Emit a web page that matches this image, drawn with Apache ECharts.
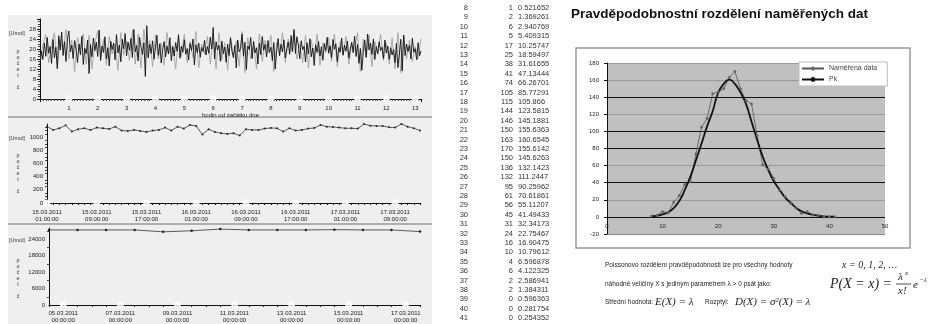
<!DOCTYPE html>
<html>
<head>
<meta charset="utf-8">
<title>Pravděpodobnostní rozdělení naměřených dat</title>
<script src="https://cdn.jsdelivr.net/npm/echarts@6/dist/echarts.min.js"></script>
<style>
html, body { margin: 0; padding: 0; background: #fff; }
#echarts { width: 952px; height: 324px; }
</style>
</head>
<body>
<div id="echarts"></div>
<script>
// panel 1 - hodnoty behem dne (krok 0.05 h a 0.1 h)
var blackStep = 0.05;
var blackTrace = [
    13.5, 19.2, 15.8, 22.4, 17.1, 24.6, 18.3, 21.0, 14.2, 23.8, 16.5, 20.7, 12.1, 25.3, 19.6, 26.8, 17.4, 22.9, 15.0, 24.1,
    27.2, 18.8, 21.5, 16.2, 23.4, 19.9, 14.6, 22.0, 17.7, 25.1, 13.8, 20.3, 18.1, 23.6, 10.2, 21.8, 16.9, 24.4, 19.3, 22.7,
    17.0, 27.6, 15.4, 21.2, 18.6, 24.9, 16.1, 20.5, 13.2, 23.1, 19.8, 22.3, 15.7, 25.8, 18.4, 21.6, 14.9, 23.9, 20.1, 26.2,
    17.3, 22.8, 19.5, 24.2, 16.6, 27.9, 18.9, 21.4, 15.2, 24.7, 20.8, 17.8, 22.5, 9.0, 29.3, 16.4, 21.9, 18.2, 23.3, 15.9,
    20.4, 25.5, 17.5, 22.1, 14.4, 19.7, 23.0, 16.8, 21.3, 18.0, 24.5, 15.3, 20.9, 17.2, 22.6, 19.1, 25.7, 16.3, 21.1, 18.7,
    23.7, 17.9, 20.2, 15.6, 22.2, 19.4, 24.0, 13.6, 21.7, 18.5, 22.4, 16.7, 20.6, 19.0, 23.5, 17.6, 21.0, 18.3, 24.8, 20.0,
    28.6, 16.0, 22.9, 19.6, 21.5, 15.1, 23.2, 18.1, 20.8, 14.7, 22.0, 17.4, 24.3, 19.2, 16.5, 21.4, 12.4, 23.6, 18.9, 20.3,
    25.9, 17.1, 22.7, 11.8, 21.2, 19.8, 24.6, 16.2, 23.1, 18.4, 20.5, 14.0, 22.3, 17.7, 25.0, 19.5, 21.8, 16.8, 23.4, 18.6,
    20.7, 15.4, 22.6, 12.0, 19.3, 24.2, 17.3, 21.9, 18.8, 23.7, 16.4, 20.1, 22.8, 17.9, 25.4, 19.0, 27.8, 18.2, 24.9, 21.6,
    16.1, 23.3, 19.7, 21.1, 14.8, 22.5, 18.0, 24.1, 16.9, 20.4, 13.4, 21.7, 18.6, 23.0, 17.2, 20.9, 15.5, 22.2, 19.4, 24.7,
    18.3, 21.3, 16.6, 23.8, 19.9, 22.1, 15.0, 20.6, 18.7, 24.4, 17.5, 21.5, 19.1, 23.2, 16.3, 20.0, 22.7, 18.5, 25.2, 17.0,
    21.8, 14.3, 20.2, 11.5, 18.9, 23.5, 16.7, 26.0, 19.6, 22.4, 17.8, 24.0, 15.8, 21.0, 18.1, 22.9, 19.3, 20.7, 16.2, 23.6,
    18.4, 21.2, 15.9, 20.5, 17.6, 19.8, 14.5, 22.3, 12.6, 18.0, 23.9, 11.2, 25.6, 17.4, 22.0, 19.0, 21.4, 16.0, 24.3, 18.7,
    20.1, 15.7, 22.5, 17.3, 19.2
];
var grayStep = 0.1;
var grayTrace = [
    15.0, 21.5, 25.8, 14.5, 22.0, 26.5, 12.5, 24.0, 19.0, 27.8,
    16.0, 23.5, 11.0, 24.5, 20.0, 26.0, 14.0, 25.5, 12.0, 22.5,
    27.0, 16.5, 24.0, 13.5, 25.0, 18.0, 22.0, 11.5, 26.5, 17.5,
    23.0, 15.5, 27.5, 14.0, 26.0, 12.5, 28.0, 17.0, 23.5, 13.0,
    25.5, 16.0, 22.5, 13.5, 26.5, 18.5, 21.5, 12.0, 24.5, 17.0,
    26.0, 14.5, 23.0, 16.5, 27.0, 12.5, 22.0, 18.0, 25.0, 14.0,
    24.0, 12.0, 26.5, 15.5, 22.5, 11.5, 25.0, 17.5, 23.0, 13.0,
    27.0, 10.5, 24.5, 16.0, 21.5, 12.0, 26.0, 15.0, 23.5, 18.5,
    25.5, 11.0, 22.5, 17.5, 26.5, 14.5, 24.0, 19.0, 27.0, 16.0,
    22.0, 14.5, 25.5, 12.5, 23.5, 17.0, 26.0, 13.5, 22.5, 18.5,
    24.5, 15.0, 26.0, 13.0, 23.0, 17.5, 25.0, 14.0, 22.0, 19.5,
    26.5, 11.0, 24.0, 16.5, 25.5, 13.0, 23.0, 18.0, 26.0, 15.5,
    22.5, 14.0, 24.5, 12.0, 26.5, 10.5, 25.0, 16.0, 23.5, 15.0,
    21.0, 16.0, 24.0
];
var hourTicks = [1, 2, 3, 4, 5, 6, 7, 8, 9, 10, 11, 12, 13];

// panel 2 - hodinove hodnoty 15.03.2011 01:00 az 17.03.2011 13:00
var hourlyValues = [
    1160, 1110, 1135, 1180, 1085, 1120, 1135, 1110, 1145, 1135,
    1125, 1160, 1100, 1095, 1110, 1095, 1080, 1100, 1110, 1145,
    1100, 1160, 1130, 1185, 1170, 1040, 1120, 1080, 1060, 1050,
    1060, 1025, 1120, 1110, 1110, 1130, 1140, 1135, 1085, 1135,
    1100, 1110, 1130, 1140, 1185, 1160, 1155, 1145, 1135, 1135,
    1130, 1200, 1175, 1170, 1170, 1150, 1145, 1200, 1160, 1135,
    1100
];
var hourlyLabels = ['15.03.2011\n01:00:00', '15.03.2011\n09:00:00', '15.03.2011\n17:00:00', '16.03.2011\n01:00:00',
    '16.03.2011\n09:00:00', '16.03.2011\n17:00:00', '17.03.2011\n01:00:00', '17.03.2011\n09:00:00'];

// panel 3 - denni hodnoty (poledne) 04.03.2011 az 17.03.2011
var dailyValues = [27300, 27300, 27300, 27300, 26600, 27000, 27600, 27300, 27300, 27300, 27400, 27300, 27300, 26700];
var dailyLabels = ['05.03.2011\n00:00:00', '07.03.2011\n00:00:00', '09.03.2011\n00:00:00', '11.03.2011\n00:00:00',
    '13.03.2011\n00:00:00', '15.03.2011\n00:00:00', '17.03.2011\n00:00:00'];

// tabulka + graf rozdeleni
var kValues = [8, 9, 10, 11, 12, 13, 14, 15, 16, 17, 18, 19, 20, 21, 22, 23, 24, 25, 26, 27, 28, 29, 30, 31, 32, 33, 34, 35, 36, 37, 38, 39, 40, 41];
var measured = [1, 2, 6, 5, 17, 25, 38, 41, 74, 105, 115, 144, 146, 150, 163, 170, 150, 136, 132, 95, 61, 56, 45, 31, 24, 16, 10, 4, 6, 2, 2, 0, 0, 0];
var pkValues = [0.521652, 1.369261, 2.940769, 5.409315, 10.25747, 18.59497, 31.61655, 47.13444, 66.26701, 85.77291,
    105.866, 123.5815, 145.1881, 155.6363, 160.6545, 155.6142, 145.6263, 132.1423, 111.2447, 90.25962,
    70.61861, 55.11207, 41.49433, 32.34173, 22.75467, 16.90475, 10.79612, 6.596878, 4.122325, 2.586941,
    1.384311, 0.596363, 0.281754, 0.254352];

window.onload = function(){
    var blackAxis = { show: true, lineStyle: { color: '#111', width: 1 } };

    // kategorie pro casove osy
    var hourCats = hourlyValues.map(function(v, i){ return String(i); });
    var halfDayCats = [];
    var halfDayData = [];
    for (var i = 0; i < dailyValues.length * 2 - 1; i++) {
        halfDayCats.push(String(i));
        halfDayData.push(i % 2 === 0 ? dailyValues[i / 2] : null);
    }

    var elements = [];
    // sede pozadi leveho panelu
    elements.push({ type: 'rect', z: -5, shape: { x: 8, y: 15, width: 424, height: 309 }, style: { fill: '#efefef' } });
    elements.push({ type: 'line', z: -4, shape: { x1: 8, y1: 117, x2: 432, y2: 117 }, style: { stroke: '#9a9a9a', lineWidth: 1.5 } });
    elements.push({ type: 'line', z: -4, shape: { x1: 8, y1: 224, x2: 432, y2: 224 }, style: { stroke: '#9a9a9a', lineWidth: 1.5 } });
    // ramecek grafu vpravo
    elements.push({ type: 'rect', z: -5, shape: { x: 576, y: 48, width: 334, height: 200 }, style: { fill: '#fff', stroke: '#999', lineWidth: 1.5 } });
    elements.push({ type: 'rect', z: -4, shape: { x: 607, y: 63, width: 278, height: 171 }, style: { fill: '#c0c0c0' } });

    // popisky os v levem panelu
    [[33, 48], [138, 152], [240, 257]].forEach(function(p){
        elements.push({ type: 'text', style: { text: '[Umol]', x: 9, y: p[0], fill: '#333', font: '5.5px Liberation Sans', textVerticalAlign: 'middle' } });
        elements.push({ type: 'text', style: { text: 'p\no\nč\ne\nt\n\nč', x: 18, y: p[1], fill: '#333', font: '5.5px Liberation Sans', lineHeight: 6, textAlign: 'center' } });
    });

    // tabulka
    kValues.forEach(function(k, i){
        var y = 8 + i * 9.4;
        var f = '7.5px Liberation Sans';
        elements.push({ type: 'text', style: { text: String(k), x: 468, y: y, fill: '#333', font: f, textAlign: 'right', textVerticalAlign: 'middle' } });
        elements.push({ type: 'text', style: { text: String(measured[i]), x: 513, y: y, fill: '#333', font: f, textAlign: 'right', textVerticalAlign: 'middle' } });
        elements.push({ type: 'text', style: { text: String(pkValues[i]), x: 518, y: y, fill: '#333', font: f, textAlign: 'left', textVerticalAlign: 'middle' } });
    });

    // nadpis
    elements.push({ type: 'text', style: { text: 'Pravděpodobnostní rozdělení naměřených dat', x: 571, y: 14, fill: '#111', font: 'bold 13.5px Liberation Sans', textVerticalAlign: 'middle' } });

    // vzorce pod grafem
    var note = '6.5px Liberation Sans';
    var math = 'italic 11px Liberation Serif';
    function txt(s, x, y, font) {
        elements.push({ type: 'text', style: { text: s, x: x, y: y, fill: '#222', font: font, textVerticalAlign: 'middle' } });
    }
    txt('Poissonovo rozdělení pravděpodobnosti lze pro všechny hodnoty', 605, 265, note);
    txt('x = 0, 1, 2, …', 842, 265, 'italic 10px Liberation Serif');
    txt('náhodné veličiny X s jediným parametrem λ > 0 psát jako:', 605, 284, note);
    txt('P(X = x) =', 830, 284, 'italic 14px Liberation Serif');
    txt('λ', 898, 277, math);
    txt('x', 905, 273, 'italic 7px Liberation Serif');
    elements.push({ type: 'line', shape: { x1: 896, y1: 284, x2: 911, y2: 284 }, style: { stroke: '#222', lineWidth: 0.8 } });
    txt('x!', 898, 291, math);
    txt('e', 913, 285, math);
    txt('−λ', 919, 280, 'italic 7px Liberation Serif');
    txt('Střední hodnota:', 605, 302, note);
    txt('E(X) = λ', 655, 302, math);
    txt('Rozptyl:', 705, 302, note);
    txt('D(X) = σ²(X) = λ', 735, 302, math);

    var option = {
        animation: false,
        textStyle: { fontFamily: 'Liberation Sans, Arial, sans-serif' },
        grid: [
            { left: 40, top: 19, width: 381, height: 80 },
            { left: 47, top: 124, width: 373, height: 79 },
            { left: 49, top: 228, width: 371, height: 82 },
            { left: 607, top: 63, width: 278, height: 171 }
        ],
        legend: {
            data: ['Naměřená data', 'Pk'],
            orient: 'vertical',
            left: 799, top: 62,
            backgroundColor: '#fff',
            borderColor: '#bbb', borderWidth: 1,
            padding: [3, 10, 3, 2],
            itemGap: 4, itemWidth: 22, itemHeight: 6,
            textStyle: { fontSize: 7, color: '#444' }
        },
        xAxis: [{
            type: 'value', gridIndex: 0, min: 0, max: 13.2, interval: 1,
            axisLine: blackAxis,
            axisTick: { length: 3, lineStyle: { color: '#111' } },
            minorTick: { show: true, splitNumber: 10, length: 2, lineStyle: { color: '#444' } },
            splitLine: { show: false },
            axisLabel: { fontSize: 6, color: '#222', margin: 6, formatter: function(v){ return (v > 0 && v === Math.round(v)) ? v : ''; } },
            name: 'hodin od začátku dne', nameLocation: 'middle', nameGap: 13,
            nameTextStyle: { fontSize: 6, color: '#222' }
        }, {
            type: 'category', gridIndex: 1, data: hourCats, boundaryGap: false,
            axisLine: blackAxis,
            axisTick: { interval: 0, length: 2, lineStyle: { color: '#111' } },
            axisLabel: { fontSize: 6, color: '#222', lineHeight: 7, margin: 6,
                interval: function(i){ return i % 8 === 0; },
                formatter: function(v, i){ return hourlyLabels[i / 8] || ''; } }
        }, {
            type: 'category', gridIndex: 2, data: halfDayCats, boundaryGap: false,
            axisLine: blackAxis,
            axisTick: { interval: 0, length: 2, lineStyle: { color: '#111' } },
            axisLabel: { fontSize: 6, color: '#222', lineHeight: 7, margin: 5,
                interval: function(i){ return i % 4 === 1; },
                formatter: function(v, i){ return dailyLabels[(i - 1) / 4] || ''; } }
        }, {
            type: 'value', gridIndex: 3, min: 0, max: 50, interval: 10,
            axisLine: { show: false, onZero: false },
            axisTick: { show: false },
            splitLine: { show: false },
            axisLabel: { fontSize: 6, color: '#222', margin: -11 }
        }],
        yAxis: [{
            type: 'value', gridIndex: 0, min: 0, max: 32, interval: 4,
            axisLine: blackAxis,
            axisTick: { length: 3, lineStyle: { color: '#111' } },
            minorTick: { show: true, splitNumber: 4, length: 2, lineStyle: { color: '#444' } },
            splitLine: { show: false },
            axisLabel: { fontSize: 6, color: '#222', margin: 4, formatter: function(v){ return v === 32 ? '' : v; } }
        }, {
            type: 'value', gridIndex: 1, min: 0, max: 1200, interval: 200,
            axisLine: blackAxis,
            axisTick: { length: 3, lineStyle: { color: '#111' } },
            minorTick: { show: true, splitNumber: 4, length: 2, lineStyle: { color: '#444' } },
            splitLine: { show: false },
            axisLabel: { fontSize: 6, color: '#222', margin: 4, formatter: function(v){ return v === 1200 ? '' : v; } }
        }, {
            type: 'value', gridIndex: 2, min: 0, max: 28000, interval: 6000,
            axisLine: blackAxis,
            axisTick: { length: 3, lineStyle: { color: '#111' } },
            minorTick: { show: true, splitNumber: 2, length: 2, lineStyle: { color: '#444' } },
            splitLine: { show: false },
            axisLabel: { fontSize: 6, color: '#222', margin: 4, formatter: function(v){ return v === 28000 ? '' : v; } }
        }, {
            type: 'value', gridIndex: 3, min: -20, max: 180, interval: 20,
            axisLine: { show: true, lineStyle: { color: '#111', width: 1 } },
            axisTick: { show: true, length: 3, lineStyle: { color: '#111' } },
            splitLine: { show: true, lineStyle: { width: 1.2, color: [
                '#8a8a8a', '#111', '#9a9a9a', '#111', '#9a9a9a', '#111', '#111', '#9a9a9a', '#111', '#9a9a9a', '#9a9a9a'
            ] } },
            axisLabel: { fontSize: 6, color: '#222' }
        }],
        series: [{
            type: 'line', xAxisIndex: 0, yAxisIndex: 0, showSymbol: false,
            lineStyle: { color: '#9a9a9a', width: 0.8 },
            data: grayTrace.map(function(v, i){ return [i * grayStep, v]; })
        }, {
            type: 'line', xAxisIndex: 0, yAxisIndex: 0, showSymbol: false,
            lineStyle: { color: '#111', width: 0.9 },
            data: blackTrace.map(function(v, i){ return [i * blackStep, v]; })
        }, {
            type: 'scatter', xAxisIndex: 0, yAxisIndex: 0, clip: false,
            symbol: 'emptyCircle', symbolSize: 5, itemStyle: { color: '#fff', borderColor: '#555', borderWidth: 0.8 },
            data: hourTicks.map(function(h){ return [h, 0]; })
        }, {
            type: 'line', xAxisIndex: 1, yAxisIndex: 1,
            symbol: 'circle', symbolSize: 2,
            itemStyle: { color: '#222' }, lineStyle: { color: '#333', width: 0.8 },
            data: hourlyValues
        }, {
            type: 'scatter', xAxisIndex: 1, yAxisIndex: 1, clip: false,
            symbol: 'emptyCircle', symbolSize: 5, itemStyle: { color: '#fff', borderColor: '#555', borderWidth: 0.8 },
            data: hourlyLabels.map(function(l, i){ return [i * 8, 0]; })
        }, {
            type: 'line', xAxisIndex: 2, yAxisIndex: 2, connectNulls: true,
            symbol: 'circle', symbolSize: 2.5,
            itemStyle: { color: '#222' }, lineStyle: { color: '#333', width: 0.8 },
            data: halfDayData
        }, {
            type: 'scatter', xAxisIndex: 2, yAxisIndex: 2, clip: false,
            symbol: 'emptyCircle', symbolSize: 5, itemStyle: { color: '#fff', borderColor: '#555', borderWidth: 0.8 },
            data: dailyLabels.map(function(l, i){ return [1 + i * 4, 0]; })
        }, {
            name: 'Naměřená data', type: 'line', xAxisIndex: 3, yAxisIndex: 3,
            symbol: 'diamond', symbolSize: 3.5,
            itemStyle: { color: '#666' }, lineStyle: { color: '#555', width: 0.8 },
            data: kValues.map(function(k, i){ return [k, measured[i]]; })
        }, {
            name: 'Pk', type: 'line', xAxisIndex: 3, yAxisIndex: 3,
            smooth: 0.5, symbol: 'none',
            itemStyle: { color: '#111' }, lineStyle: { color: '#111', width: 1.8 },
            data: kValues.map(function(k, i){ return [k, pkValues[i]]; })
        }],
        graphic: { elements: elements }
    };

    var mychart = echarts.init(document.getElementById("echarts"));
    mychart.setOption(option);
}
</script>
</body>
</html>
